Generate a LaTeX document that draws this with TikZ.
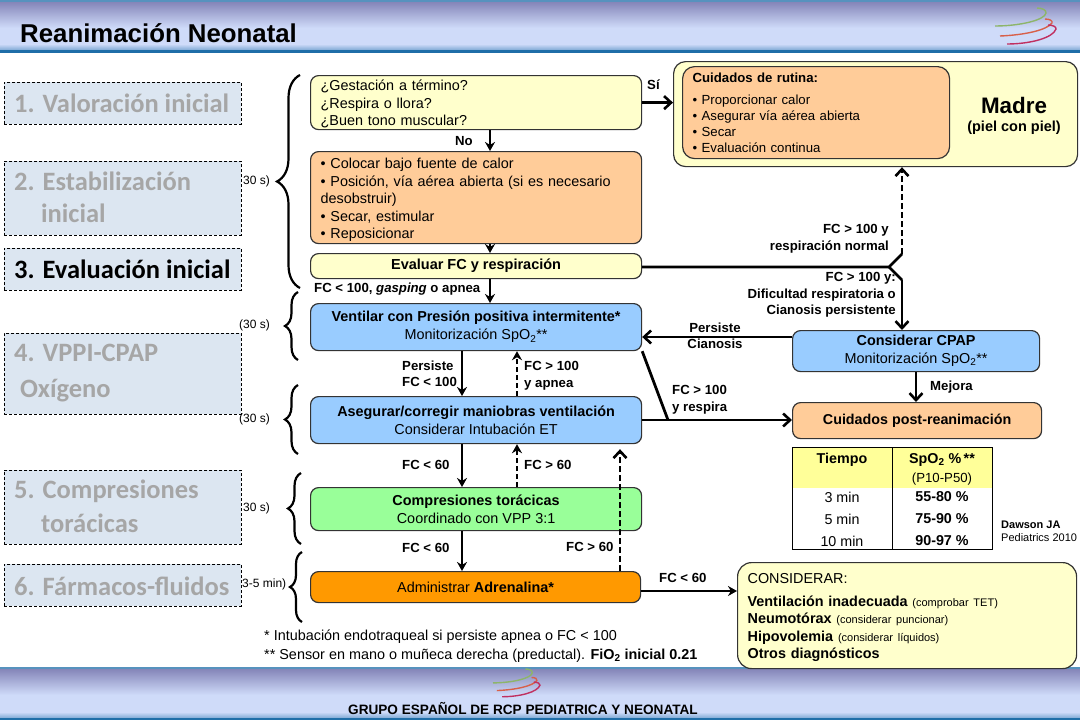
\documentclass[tikz,border=0pt]{standalone}
\usepackage{fontspec}
\setmainfont{Liberation Sans}
\newfontfamily\stepfont{Carlito}
\usetikzlibrary{arrows.meta,decorations.pathreplacing}
\definecolor{bandtop}{HTML}{7F7FB4}
\definecolor{bandlow}{HTML}{CFDBF9}
\definecolor{bandline}{HTML}{1F6EA8}
\definecolor{stepfill}{HTML}{DCE6F1}
\definecolor{stepgray}{HTML}{A6A6A6}
\definecolor{boxyellow}{HTML}{FFFFCC}
\definecolor{boxorange}{HTML}{FFCC99}
\definecolor{boxblue}{HTML}{99CCFF}
\definecolor{boxgreen}{HTML}{99FF99}
\definecolor{boxadren}{HTML}{FF9900}
\definecolor{tabyellow}{HTML}{FFFF99}
\definecolor{logogreen}{HTML}{8DB56A}
\definecolor{logored}{HTML}{D8604A}
\definecolor{logopink}{HTML}{C03060}
\tikzset{
  stepbox/.style={draw,densely dashed,line width=0.6pt,fill=stepfill,anchor=north west,inner sep=0pt},
  stepname/.style={anchor=west,inner sep=0pt,font=\stepfont\bfseries\fontsize{26.5}{32}\selectfont,text=stepgray},
  fbox/.style={draw=black!80,line width=1.2pt,rounded corners=8pt,anchor=north west,inner sep=0pt,align=center,font=\fontsize{14.4}{18}\selectfont},
  lbox/.style={fbox,align=left,text width=#1},
  lab/.style={inner sep=0pt,anchor=west,align=left,font=\bfseries\fontsize{13.2}{16.5}\selectfont},
  timelab/.style={inner sep=0pt,anchor=west,font=\fontsize{12}{14}\selectfont},
  arr/.style={line width=2.4pt,-{Stealth[length=9pt,width=10pt]}},
  barb/.style={line width=2.8pt,-{Straight Barb[length=7pt,width=13pt,line width=2.6pt]}},
  dasharr/.style={arr,dash pattern=on 5pt off 3pt},
  dashbarb/.style={barb,dash pattern=on 6pt off 3pt},
  bracket/.style={draw,line width=2.2pt,decorate,decoration={brace,amplitude=#1}},
  cell/.style={inner sep=0pt,font=\fontsize{14.3}{16}\selectfont},
  cellb/.style={inner sep=0pt,font=\bfseries\fontsize{14.3}{16}\selectfont},
}
\newcommand{\logo}[3]{%
  \begin{scope}[shift={(#1,#2)},scale=#3,line width=1.4pt]
  \draw[logogreen] (0,18) .. controls (25,18) and (50,12) .. (51,5) .. controls (51.5,2) and (47,0) .. (42,0);
  \draw[logored] (5,28) .. controls (30,27) and (52,22) .. (57,15) .. controls (58,13) and (55,11) .. (50,11);
  \draw[logopink] (12,36) .. controls (35,36) and (58,30) .. (61,21) .. controls (61.5,19) and (58,17) .. (53,17);
  \end{scope}}
\begin{document}
\begin{tikzpicture}[x=1pt,y=-1pt,line cap=butt]
\useasboundingbox (0,0) rectangle (1080,720);
\fill[white] (0,0) rectangle (1080,720);
% bands
\shade[top color=bandtop,bottom color=bandlow] (0,0) rectangle (1080,28);
\fill[bandlow] (0,28) rectangle (1080,44);
\shade[top color=bandlow,bottom color=bandline!45!bandlow] (0,44) rectangle (1080,50);
\fill[bandline!75!white] (0,0) rectangle (1080,2);
\fill[bandline] (0,50) rectangle (1080,53);
\shade[top color=bandtop,bottom color=bandlow] (0,667) rectangle (1080,695);
\fill[bandlow] (0,695) rectangle (1080,712);
\shade[top color=bandlow,bottom color=bandline!45!bandlow] (0,712) rectangle (1080,718);
\fill[bandline!75!white] (0,667) rectangle (1080,669);
\fill[bandline] (0,718) rectangle (1080,720);
\logo{995}{8}{1}
\logo{493}{669}{0.77}
\node[anchor=west,inner sep=0pt,font=\bfseries\fontsize{25.8}{28}\selectfont] (title) at (20,33) {Reanimación Neonatal};
\node[inner sep=0pt,font=\bfseries\fontsize{13.6}{15}\selectfont] (group) at (523,709) {GRUPO ESPAÑOL DE RCP PEDIATRICA Y NEONATAL};
% steps on the left
\node[stepbox,minimum width=237pt,minimum height=42pt] (s1) at (4,82) {};
\node[stepbox,minimum width=237pt,minimum height=74pt] (s2) at (4,161) {};
\node[stepbox,minimum width=237pt,minimum height=42pt] (s3) at (4,248) {};
\node[stepbox,minimum width=237pt,minimum height=81pt] (s4) at (4,333) {};
\node[stepbox,minimum width=237pt,minimum height=74pt] (s5) at (4,470) {};
\node[stepbox,minimum width=237pt,minimum height=42pt] (s6) at (4,564) {};
\node[stepname] (n1) at (14,103) {1. Valoración inicial};
\node[stepname] (n2) at (14,181) {2. Estabilización};
\node[stepname] (n2b) at (41,213) {inicial};
\node[stepname,text=black] (n3) at (14,269) {3. Evaluación inicial};
\node[stepname] (n4) at (14,353) {4. VPPI-CPAP};
\node[stepname] (n4b) at (20,391) {Oxígeno};
\node[stepname] (n5) at (14,491) {5. Compresiones};
\node[stepname] (n5b) at (41,523) {torácicas};
\node[stepname] (n6) at (14,586) {6. Fármacos-fluidos};
% times and braces
\node[timelab] (t1) at (243,181) {30 s)};
\node[timelab] (t2) at (239,325) {(30 s)};
\node[timelab] (t3) at (239,419) {(30 s)};
\node[timelab] (t4) at (243,508) {30 s)};
\node[timelab] (t5) at (242,584) {3-5 min)};
\draw[bracket=23pt] (300,288) -- (300,75);
\draw[bracket=13pt] (298,360) -- (298,292);
\draw[bracket=13pt] (298,454) -- (298,385);
\draw[bracket=13pt] (301,544) -- (301,473);
\draw[bracket=12pt] (302,622) -- (302,552);
% boxes
\node[lbox=311pt,fill=boxyellow,minimum width=331pt,minimum height=54pt,font=\fontsize{14.4}{17.4}\selectfont] (q) at (310,75) {\rule{0pt}{14pt}¿Gestación a término?\\¿Respira o llora?\\¿Buen tono muscular?};
\node[lbox=311pt,fill=boxorange,minimum width=331pt,minimum height=92pt,font=\fontsize{14.4}{17.4}\selectfont] (stab) at (310,151) {\rule{0pt}{15pt}• Colocar bajo fuente de calor\\• Posición, vía aérea abierta (si es necesario\\desobstruir)\\• Secar, estimular\\• Reposicionar};
\node[fbox,fill=boxyellow,minimum width=331pt,minimum height=25pt,font=\bfseries\fontsize{14.5}{17}\selectfont] (eval) at (310,253) {Evaluar FC y respiración};
\node[fbox,fill=boxblue,minimum width=331pt,minimum height=47pt] (vpp) at (310,303) {\textbf{Ventilar con Presión positiva intermitente*}\\Monitorización SpO\textsubscript{2}**};
\node[fbox,fill=boxblue,minimum width=331pt,minimum height=47pt] (aseg) at (310,396) {\textbf{Asegurar/corregir maniobras ventilación}\\Considerar Intubación ET};
\node[fbox,fill=boxgreen,minimum width=331pt,minimum height=43pt] (comp) at (310,487) {\textbf{Compresiones torácicas}\\Coordinado con VPP 3:1};
\node[fbox,fill=boxadren,minimum width=330pt,minimum height=31pt] (adren) at (310,571) {Administrar \textbf{Adrenalina*}};
\node[fbox,fill=boxyellow,minimum width=404pt,minimum height=105pt,rounded corners=12pt] (madre) at (673,61) {};
\node[lbox=247pt,fill=boxorange,minimum width=267pt,minimum height=92pt,rounded corners=12pt,font=\fontsize{13.2}{16}\selectfont] (rut) at (682,66) {\textbf{Cuidados de rutina:}\\[6.5pt]• Proporcionar calor\\• Asegurar vía aérea abierta\\• Secar\\• Evaluación continua};
\node[inner sep=0pt,font=\bfseries\fontsize{22.4}{24}\selectfont] (mom) at (1014,105) {Madre};
\node[inner sep=0pt,font=\bfseries\fontsize{14.5}{16}\selectfont] (skin) at (1014,128) {(piel con piel)};
\node[fbox,fill=boxblue,minimum width=247pt,minimum height=41pt] (cpap) at (792,330) {\textbf{Considerar CPAP}\\Monitorización SpO\textsubscript{2}**};
\node[fbox,fill=boxorange,minimum width=249pt,minimum height=36pt,font=\bfseries\fontsize{14.3}{16}\selectfont] (post) at (792,402) {Cuidados post-reanimación};
\node[lbox=319pt,fill=boxyellow,minimum width=339pt,minimum height=106pt,rounded corners=14pt,font=\bfseries\fontsize{14.4}{17.2}\selectfont] (cons) at (737,562) {\rule{0pt}{14pt}\textmd{CONSIDERAR:}\\[5.5pt]Ventilación inadecuada {\mdseries\fontsize{11}{12}\selectfont(comprobar TET)}\\Neumotórax {\mdseries\fontsize{11}{12}\selectfont(considerar puncionar)}\\Hipovolemia {\mdseries\fontsize{11}{12}\selectfont(considerar líquidos)}\\Otros diagnósticos};
% table
\fill[white] (792,447) rectangle (992,549);
\fill[tabyellow] (792,447) rectangle (992,488);
\draw[line width=1pt] (792,447) rectangle (992,549);
\draw[line width=1pt] (892,447) -- (892,549);
\node[cellb] (h1) at (842,460) {Tiempo};
\node[cellb] (h2) at (942,460) {SpO\textsubscript{2} \%\,**};
\node[cell,font=\fontsize{13.2}{15}\selectfont] (h3) at (942,479) {(P10-P50)};
\node[cell] (r1) at (842,497) {3 min};
\node[cell] (r2) at (842,519) {5 min};
\node[cell] (r3) at (842,541) {10 min};
\node[cellb] (v1) at (942,497) {55-80 \%};
\node[cellb] (v2) at (942,519) {75-90 \%};
\node[cellb] (v3) at (942,541) {90-97 \%};
\node[inner sep=0pt,anchor=west,align=left,font=\fontsize{11}{13}\selectfont] (dawson) at (1001,531) {\textbf{Dawson JA}\\Pediatrics 2010};
% connector columns
\coordinate (xa) at (490,0); \coordinate (xb) at (462,0); \coordinate (xc) at (517,0);
\coordinate (xd) at (620,0); \coordinate (xe) at (902,0); \coordinate (xf) at (916,0);
\coordinate (fork) at (889,267); \coordinate (forkup) at (902,254); \coordinate (forkdn) at (902,280);
\coordinate (join) at (668,420); \coordinate (ycpap) at (0,337); \coordinate (yadr) at (0,591);
\draw[barb] (q.east) -- (q.east -| madre.west);
\draw[arr,line width=1.8pt] (q.south -| xa) -- (stab.north -| xa);
\draw[arr,line width=1.8pt] (stab.south -| xa) -- (eval.north -| xa);
\draw[arr] (eval.south -| xa) -- (vpp.north -| xa);
\draw[line width=2.8pt,line join=round] (eval.east |- fork) -- (fork) -- (forkup);
\draw[line width=2.8pt] (fork) -- (forkdn);
\draw[dashbarb] (forkup) -- (madre.south -| xe);
\draw[barb] (forkdn) -- (cpap.north -| xe);
\draw[barb] (cpap.west |- ycpap) -- (vpp.east |- ycpap);
\draw[arr] (vpp.south -| xb) -- (aseg.north -| xb);
\draw[dasharr] (aseg.north -| xc) -- (vpp.south -| xc);
\draw[arr] (aseg.south -| xb) -- (comp.north -| xb);
\draw[dasharr] (comp.north -| xc) -- (aseg.south -| xc);
\draw[arr] (comp.south -| xb) -- (adren.north -| xb);
\draw[dashbarb] (adren.north -| xd) -- ([yshift=-5pt]aseg.south -| xd);
\draw[line width=2.8pt] (vpp.south east) -- (join);
\draw[barb] (aseg.east |- join) -- (post.west |- join);
\draw[barb] (cpap.south -| xf) -- (post.north -| xf);
\draw[arr] (adren.east |- yadr) -- (cons.west |- yadr);
% labels
\node[lab] (si) at (647,85) {Sí};
\node[lab] (no) at (455,141) {No};
\node[lab] (l1) at (314,289) {FC < 100, \textit{gasping} o apnea};
\node[lab,anchor=east,align=right] (l2) at (889,239) {FC > 100 y\\respiración normal};
\node[lab,anchor=east,align=right] (l3) at (896,295) {FC > 100 y:\\Dificultad respiratoria o\\Cianosis persistente};
\node[lab,align=center,anchor=center] (l4) at (715,336) {Persiste\\Cianosis};
\node[lab] (l5) at (402,374) {Persiste\\FC < 100};
\node[lab] (l6) at (524,376) {FC > 100\\y apnea};
\node[lab] (l7) at (672,400) {FC > 100\\y respira};
\node[lab] (l8) at (930,387) {Mejora};
\node[lab] (l9) at (402,465) {FC < 60};
\node[lab] (l10) at (524,465) {FC > 60};
\node[lab] (l11) at (402,548) {FC < 60};
\node[lab] (l12) at (566,547) {FC > 60};
\node[lab] (l13) at (659,578) {FC < 60};
\node[inner sep=0pt,anchor=west,align=left,font=\fontsize{14.4}{18.5}\selectfont] (notes) at (264,646) {* Intubación endotraqueal si persiste apnea o FC < 100\\** Sensor en mano o muñeca derecha (preductal). \textbf{FiO\textsubscript{2} inicial 0.21}};
\end{tikzpicture}
\end{document}
